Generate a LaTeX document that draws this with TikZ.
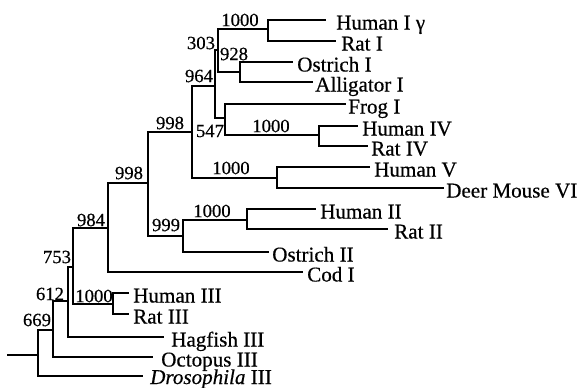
\documentclass[tikz,border=0pt]{standalone}
\usepackage{fontspec}
\setmainfont{Liberation Serif}
\newfontfamily\treefont{Liberation Serif}[FakeBold=0.5]
\begin{document}
\begin{tikzpicture}[x=0.75pt,y=-0.75pt,
  br/.style={line width=1.6pt, line cap=rect, line join=miter},
  leaf/.style={anchor=base west, inner sep=0pt, font=\treefont\fontsize{15.8}{18}\selectfont},
  bs/.style={inner sep=0pt, font=\treefont\fontsize{14}{16}\selectfont}]
\useasboundingbox (0,0) rectangle (577,387);
% internal nodes
\coordinate (root) at (8,355);
\coordinate (n669) at (38,355);
\coordinate (n612) at (53,330);
\coordinate (n753) at (68,301);
\coordinate (n984) at (73,267);
\coordinate (n1000III) at (113,304);
\coordinate (n998b) at (108,228);
\coordinate (n998a) at (148,183);
\coordinate (n964) at (192,132);
\coordinate (n547) at (215,86);
\coordinate (n303) at (218,50);
\coordinate (n1000I) at (268,29);
\coordinate (n928) at (240,72);
\coordinate (nFrog) at (225,118);
\coordinate (n1000IV) at (319,135);
\coordinate (n1000V) at (277,178);
\coordinate (n999) at (183,236);
\coordinate (n1000II) at (247,220);
% leaf line ends
\coordinate (lHIg) at (325,20);
\coordinate (lRI) at (335,41);
\coordinate (lOI) at (292,62);
\coordinate (lAI) at (312,82);
\coordinate (lFI) at (345,104);
\coordinate (lHIV) at (357,126);
\coordinate (lRIV) at (367,146);
\coordinate (lHV) at (369,167);
\coordinate (lDMVI) at (443,188);
\coordinate (lHII) at (315,209);
\coordinate (lRII) at (387,229);
\coordinate (lOII) at (268,252);
\coordinate (lCI) at (302,272);
\coordinate (lHIII) at (128,293);
\coordinate (lRIII) at (128,314);
\coordinate (lHgIII) at (163,337);
\coordinate (lOcIII) at (152,357);
\coordinate (lDrIII) at (142,376);
% leaf labels
\node[leaf] (tHIg) at (336,29.5) {Human I γ};
\node[leaf] (tRI) at (341,50.5) {Rat I};
\node[leaf] (tOI) at (297,71.5) {Ostrich I};
\node[leaf] (tAI) at (315,91.5) {Alligator I};
\node[leaf] (tFI) at (348,113.5) {Frog I};
\node[leaf] (tHIV) at (362,135.5) {Human IV};
\node[leaf] (tRIV) at (371,155.5) {Rat IV};
\node[leaf] (tHV) at (374,176.5) {Human V};
\node[leaf] (tDMVI) at (446,197.5) {Deer Mouse VI};
\node[leaf] (tHII) at (320,218.5) {Human II};
\node[leaf] (tRII) at (394,238.5) {Rat II};
\node[leaf] (tOII) at (272,261.5) {Ostrich II};
\node[leaf] (tCI) at (307,281.5) {Cod I};
\node[leaf] (tHIII) at (133,302.5) {Human III};
\node[leaf] (tRIII) at (133,323.5) {Rat III};
\node[leaf] (tHgIII) at (171,346.5) {Hagfish III};
\node[leaf] (tOcIII) at (161,366.5) {Octopus III};
\node[leaf] (tDrIII) at (150,384) {\textit{Drosophila} III};
% branches
\draw[br] (root) -- (n669);
\draw[br] (n669) |- (n612);
\draw[br] (n669) |- (lDrIII);
\draw[br] (n612) |- (n753);
\draw[br] (n612) |- (lOcIII);
\draw[br] (n753) |- (n984);
\draw[br] (n753) |- (lHgIII);
\draw[br] (n984) |- (n998b);
\draw[br] (n984) |- (n1000III);
\draw[br] (n1000III) |- (lHIII);
\draw[br] (n1000III) |- (lRIII);
\draw[br] (n998b) |- (n998a);
\draw[br] (n998b) |- (lCI);
\draw[br] (n998a) |- (n964);
\draw[br] (n998a) |- (n999);
\draw[br] (n999) |- (n1000II);
\draw[br] (n999) |- (lOII);
\draw[br] (n1000II) |- (lHII);
\draw[br] (n1000II) |- (lRII);
\draw[br] (n964) |- (n547);
\draw[br] (n964) |- (n1000V);
\draw[br] (n1000V) |- (lHV);
\draw[br] (n1000V) |- (lDMVI);
\draw[br] (n547) |- (n303);
\draw[br] (n547) |- (nFrog);
\draw[br] (nFrog) |- (lFI);
\draw[br] (nFrog) |- (n1000IV);
\draw[br] (n1000IV) |- (lHIV);
\draw[br] (n1000IV) |- (lRIV);
\draw[br] (n303) |- (n1000I);
\draw[br] (n303) |- (n928);
\draw[br] (n1000I) |- (lHIg);
\draw[br] (n1000I) |- (lRI);
\draw[br] (n928) |- (lOI);
\draw[br] (n928) |- (lAI);
% bootstrap values
\node[bs] (b1000I) at (240,20) {1000};
\node[bs] (b303) at (201,43) {303};
\node[bs] (b928) at (234,54) {928};
\node[bs] (b964) at (199,76) {964};
\node[bs] (b998a) at (170,123) {998};
\node[bs] (b547) at (210,131) {547};
\node[bs] (b1000IV) at (271,126) {1000};
\node[bs] (b1000V) at (231,168) {1000};
\node[bs] (b998b) at (129,173) {998};
\node[bs] (b984) at (91,220) {984};
\node[bs] (b999) at (166,225) {999};
\node[bs] (b1000II) at (212,211) {1000};
\node[bs] (b753) at (57,257) {753};
\node[bs] (b612) at (50,294) {612};
\node[bs] (b1000III) at (94,296) {1000};
\node[bs] (b669) at (37,320) {669};
\end{tikzpicture}
\end{document}
